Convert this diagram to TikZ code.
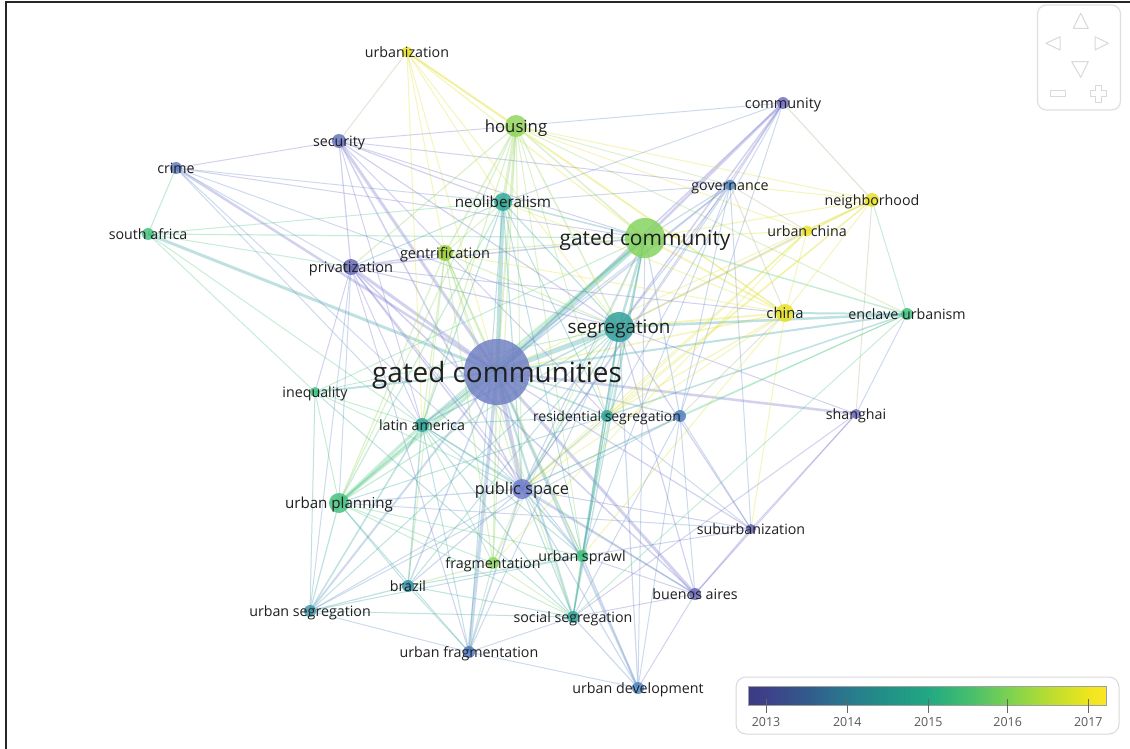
\documentclass[tikz,border=0pt]{standalone}
\usepackage{fontspec}
\setmainfont{Open Sans}
\usetikzlibrary{shapes.geometric}
\pgfdeclarelayer{bg}
\pgfdeclarelayer{edges}
\pgfdeclarelayer{labels}
\pgfsetlayers{bg,edges,main,labels}
% node colours
\definecolor{nGC}{HTML}{6E7DC2}
\definecolor{nGY}{HTML}{82D25A}
\definecolor{nHOU}{HTML}{8FD45A}
\definecolor{nSEG}{HTML}{2E9E9A}
\definecolor{nNEO}{HTML}{2AA694}
\definecolor{nY}{HTML}{E8E020}
\definecolor{nGEN}{HTML}{9ACE30}
\definecolor{nPRI}{HTML}{6262B4}
\definecolor{nSEC}{HTML}{6270BC}
\definecolor{nCRI}{HTML}{5878BC}
\definecolor{nCOM}{HTML}{6F6AC4}
\definecolor{nGOV}{HTML}{4C86C4}
\definecolor{nG}{HTML}{3EBF7A}
\definecolor{nT}{HTML}{2AA297}
\definecolor{nUNL}{HTML}{4A7CC0}
\definecolor{nPUB}{HTML}{6E78CC}
\definecolor{nFRAG}{HTML}{8FD65C}
\definecolor{nBRA}{HTML}{2B8EA6}
\definecolor{nUSEG}{HTML}{3A94A8}
\definecolor{nUFR}{HTML}{4A74C0}
\definecolor{nUDEV}{HTML}{4A86C4}
% edge colours
\definecolor{eP}{HTML}{7D7DD2}
\definecolor{eB}{HTML}{6D95CC}
\definecolor{eT}{HTML}{45A8A8}
\definecolor{eG}{HTML}{5CCC8C}
\definecolor{eLG}{HTML}{9AD86A}
\definecolor{eY}{HTML}{E2E23A}
\definecolor{eGr}{HTML}{B4B48C}
% legend colours
\definecolor{vA}{HTML}{3B3A86}
\definecolor{vB}{HTML}{3E4189}
\definecolor{vC}{HTML}{33598C}
\definecolor{vD}{HTML}{29798E}
\definecolor{vE}{HTML}{219287}
\definecolor{vF}{HTML}{22A884}
\definecolor{vG}{HTML}{43BD6E}
\definecolor{vH}{HTML}{7AD151}
\definecolor{vI}{HTML}{B8DD32}
\definecolor{vJ}{HTML}{EEE51D}
\definecolor{vK}{HTML}{FDE725}
\definecolor{labc}{HTML}{1F1F1F}
\pgfdeclarehorizontalshading{viridis}{100bp}{color(0bp)=(vA); color(25bp)=(vA); color(27.5bp)=(vB); color(33bp)=(vC); color(38.8bp)=(vD); color(44.5bp)=(vE); color(50.1bp)=(vF); color(55.5bp)=(vG); color(61.2bp)=(vH); color(66.8bp)=(vI); color(72.4bp)=(vJ); color(75bp)=(vK); color(100bp)=(vK)}
\tikzset{
  kw/.style={circle, inner sep=0pt, minimum size=#1bp, draw=none, fill opacity=0.82},
  lab/.style={anchor=base, inner sep=0pt, text=labc},
  navshape/.style={draw=gray!30, line width=1bp, line join=round},
}
\begin{document}
\begin{tikzpicture}[x=1bp,y=-1bp]
\useasboundingbox (0,0) rectangle (1130,749);
\begin{pgfonlayer}{bg}
\fill[white] (0,0) rectangle (1130,749);
\end{pgfonlayer}
% keyword nodes
\node[kw=66, fill=nGC] (gc) at (497,372) {};
\node[kw=40, fill=nGY] (gy) at (645,238) {};
\node[kw=22, fill=nHOU] (hou) at (516,126) {};
\node[kw=30, fill=nSEG] (seg) at (619,327) {};
\node[kw=11, fill=nY] (urbz) at (407,52) {};
\node[kw=12, fill=nCOM] (com) at (783,103) {};
\node[kw=14, fill=nSEC] (sec) at (339,141) {};
\node[kw=12, fill=nCRI] (cri) at (176,168) {};
\node[kw=11, fill=nGOV] (gov) at (730,185) {};
\node[kw=18, fill=nNEO] (neo) at (503,202) {};
\node[kw=14, fill=nY] (nei) at (872,200) {};
\node[kw=12, fill=nG] (saf) at (148,234) {};
\node[kw=11, fill=nY] (uch) at (807,231) {};
\node[kw=16, fill=nGEN] (gen) at (445,253) {};
\node[kw=16, fill=nPRI] (pri) at (351,267) {};
\node[kw=18, fill=nY] (chi) at (785,313) {};
\node[kw=12, fill=nG] (enc) at (907,314) {};
\node[kw=10, fill=nG] (ineq) at (315,392) {};
\node[kw=14, fill=nT] (lat) at (422,425) {};
\node[kw=12, fill=nT] (rseg) at (607,416) {};
\node[kw=12, fill=nUNL] (unl) at (680,416) {};
\node[kw=10, fill=nCOM] (sha) at (856,414) {};
\node[kw=20, fill=nPUB] (pub) at (522,489) {};
\node[kw=20, fill=nG] (upl) at (339,503) {};
\node[kw=10, fill=nPRI] (sub) at (751,529) {};
\node[kw=12, fill=nG] (spr) at (582,556) {};
\node[kw=12, fill=nFRAG] (frag) at (493,563) {};
\node[kw=12, fill=nBRA] (bra) at (408,586) {};
\node[kw=12, fill=nPRI] (bue) at (695,594) {};
\node[kw=12, fill=nUSEG] (useg) at (310,611) {};
\node[kw=12, fill=nT] (sseg) at (573,617) {};
\node[kw=12, fill=nUFR] (ufr) at (469,652) {};
\node[kw=12, fill=nUDEV] (udev) at (638,688) {};
% links
\begin{pgfonlayer}{edges}
\foreach \a/\b/\w/\c in {
 gc/sec/3/eP, gc/cri/2.5/eP, gc/saf/3/eT, gc/pri/3/eP, gc/neo/4/eT, gc/hou/2/eLG, gc/gy/5/eT, gc/seg/5/eT,
 gc/gen/1.5/eLG, gc/ineq/2/eT, gc/lat/2/eT, gc/upl/3/eG, gc/pub/4/eP, gc/ufr/3.5/eB, gc/useg/2/eB, gc/bra/1.5/eB,
 gc/frag/1.5/eLG, gc/spr/1.5/eG, gc/sseg/2/eT, gc/udev/2/eB, gc/bue/3/eP, gc/sub/1.2/eP, gc/sha/2.5/eP, gc/unl/1.5/eB,
 gc/rseg/1.5/eT, gc/chi/1.5/eY, gc/enc/2/eT, gc/com/1.5/eP, gc/gov/1.5/eB, gc/urbz/1/eY, gc/nei/1/eY,
 gy/hou/1.5/eLG, gy/neo/1.5/eT, gy/gen/1.2/eLG, gy/pri/1.5/eP, gy/saf/1.2/eG, gy/seg/2.5/eT, gy/chi/2/eY, gy/uch/1.2/eY,
 gy/nei/1.2/eY, gy/gov/1.2/eB, gy/com/2.5/eP, gy/sec/1/eP, gy/lat/2/eG, gy/upl/2/eG, gy/pub/1.2/eB, gy/spr/1.2/eG,
 gy/sseg/1.2/eT, gy/rseg/1.2/eT, gy/unl/1.2/eB, gy/enc/1.5/eG, gy/frag/1/eLG, gy/udev/1/eB, gy/ineq/1/eG, gy/urbz/1.2/eY, gy/cri/1/eP,
 hou/urbz/2/eY, hou/sec/1/eP, hou/com/1/eB, hou/neo/3/eLG, hou/gen/1.5/eLG, hou/pri/1.2/eLG, hou/seg/1.5/eLG, hou/chi/1.2/eY,
 hou/uch/1/eY, hou/nei/1/eY, hou/gov/1/eLG, hou/lat/1.2/eLG, hou/upl/1.2/eLG, hou/pub/1/eLG, hou/spr/1/eLG, hou/frag/1/eLG,
 hou/enc/1/eLG, hou/rseg/1/eLG,
 seg/chi/2/eY, seg/enc/2.5/eT, seg/sub/1.2/eP, seg/bue/1.2/eP, seg/sseg/1.5/eT, seg/spr/1.5/eT, seg/udev/1.2/eB, seg/lat/1.5/eT,
 seg/upl/1.2/eG, seg/pub/1.5/eT, seg/gov/1.2/eB, seg/com/1.5/eP, seg/nei/1.2/eY, seg/uch/1.5/eGr, seg/sha/1/eP, seg/rseg/1.2/eT,
 seg/neo/1.2/eT, seg/gen/1.2/eLG, seg/pri/1.2/eP, seg/sec/1.2/eP, seg/cri/1/eB, seg/ineq/1/eG, seg/urbz/1/eY, seg/useg/1/eT,
 seg/bra/1/eT, seg/ufr/1/eB,
 urbz/sec/1/eGr, urbz/gen/1/eY, urbz/neo/1/eY, urbz/chi/1/eY, urbz/lat/1/eY,
 com/gov/1.2/eP, com/nei/1.2/eGr, com/neo/1/eB, com/unl/1/eB, com/rseg/1/eB, com/pub/1/eP,
 sec/cri/1/eP, sec/pri/1.2/eP, sec/gov/1/eP, sec/neo/1.2/eP, sec/pub/1.5/eP, sec/lat/1/eP, sec/rseg/1/eP,
 cri/saf/1.2/eG, cri/pri/1/eB, cri/neo/1/eB, cri/pub/1/eB, cri/lat/1/eB,
 gov/nei/1/eY, gov/uch/1/eGr, gov/chi/1/eGr, gov/pub/1/eB, gov/spr/1/eB, gov/unl/1/eB, gov/lat/1/eB, gov/sub/1/eB, gov/neo/1/eB,
 neo/gen/1/eLG, neo/pri/1/eT, neo/lat/1.2/eT, neo/upl/1.2/eG, neo/pub/1.2/eT, neo/chi/1/eY, neo/spr/1/eT, neo/rseg/1/eT, neo/saf/1/eG, neo/ufr/1/eT,
 nei/uch/2/eY, nei/chi/1/eY, nei/enc/1/eG, nei/sha/1/eGr, nei/pub/1/eY, nei/rseg/1/eY,
 saf/pri/1/eG, saf/ineq/1/eG, saf/lat/1/eG,
 uch/chi/1/eY, uch/rseg/1/eY, uch/pub/1/eY, uch/frag/1/eY,
 gen/pri/1.5/eP, gen/lat/1.2/eLG, gen/upl/1.2/eLG, gen/pub/1/eLG, gen/frag/1.2/eLG, gen/spr/1/eLG, gen/chi/1/eY, gen/sseg/1/eLG, gen/bra/1/eLG,
 pri/ineq/1/eP, pri/lat/1/eP, pri/upl/1/eB, pri/pub/1.5/eP, pri/bue/1.5/eP, pri/ufr/1/eP, pri/useg/1/eB, pri/spr/1/eP, pri/chi/1/eP,
 chi/enc/2/eT, chi/sub/1/eY, chi/rseg/1.2/eY, chi/pub/1/eY, chi/unl/1/eGr, chi/spr/1/eY,
 enc/sha/1/eB, enc/unl/1/eG, enc/pub/1/eG, enc/sseg/1/eG, enc/rseg/1.5/eT,
 ineq/lat/1/eG, ineq/upl/1/eG, ineq/useg/1/eT, ineq/pub/1/eG, ineq/sseg/1/eT,
 lat/upl/3/eG, lat/bra/1.5/eT, lat/useg/1.5/eT, lat/pub/1.2/eT, lat/spr/1/eT, lat/sseg/1.2/eT, lat/frag/1/eG, lat/ufr/1/eT, lat/rseg/1/eT, lat/bue/1/eT,
 rseg/unl/1/eB, rseg/pub/1/eT, rseg/spr/1/eT, rseg/sseg/1/eT, rseg/sub/1/eB, rseg/upl/1/eT,
 unl/sub/1/eB, unl/bue/1/eB, unl/udev/1/eB, unl/pub/1/eB, unl/sseg/1/eB, unl/useg/1/eB,
 sha/sub/1/eP, sha/bue/1/eP, sha/sseg/1/eP,
 pub/upl/1.2/eB, pub/spr/1.5/eT, pub/frag/1/eLG, pub/bra/1.2/eB, pub/bue/1.5/eP, pub/useg/1/eB, pub/sseg/1.2/eT, pub/ufr/1.5/eB, pub/udev/1.2/eB, pub/sub/1/eP,
 upl/useg/1.2/eT, upl/bra/1/eT, upl/spr/1/eG, upl/sseg/1/eG, upl/frag/1/eG, upl/ufr/1/eT, upl/sub/1/eB,
 sub/bue/1.5/eP, sub/spr/1/eP,
 spr/sseg/1.5/eG, spr/udev/1.5/eB, spr/frag/1/eG, spr/bra/1/eT, spr/useg/1/eT, spr/bue/1/eP,
 frag/bra/1.2/eLG, frag/ufr/1/eG, frag/sseg/1/eLG,
 bra/useg/1.2/eT, bra/ufr/1/eT, bra/sseg/1/eT,
 bue/udev/1/eP, bue/sseg/1/eP,
 useg/ufr/1/eB, useg/sseg/1/eT,
 sseg/ufr/1/eB, sseg/udev/1.2/eB,
 ufr/udev/1/eB}
 {\draw[line width=\w bp, draw=\c, draw opacity=0.34] (\a.center) -- (\b.center);}
\end{pgfonlayer}
% labels
\begin{pgfonlayer}{labels}
\foreach \n/\t/\s in {
 gc/gated communities/28, gy/gated community/21, seg/segregation/18.9, hou/housing/16.8,
 pub/public space/16.4, upl/urban planning/15.2, neo/neoliberalism/15.3,
 urbz/urbanization/14.3, com/community/14.5, sec/security/14.3, cri/crime/14.3, gov/governance/14.3,
 nei/neighborhood/14.3, saf/south africa/14.3, uch/urban china/14.3, gen/gentrification/14.6,
 pri/privatization/14.6, chi/china/14.8, enc/enclave urbanism/14.3, ineq/inequality/14.3,
 lat/latin america/14.3, rseg/residential segregation/14, sha/shanghai/14.3, sub/suburbanization/14.3,
 spr/urban sprawl/14.3, frag/fragmentation/14.3, bra/brazil/14.3, bue/buenos aires/14.3,
 useg/urban segregation/14.3, sseg/social segregation/14.3, ufr/urban fragmentation/14.3,
 udev/urban development/14.3}
 {\node[lab, font=\fontsize{\s}{\s}\selectfont, yshift=-0.36*\s bp] (\n-l) at (\n) {\t};}
\end{pgfonlayer}
% navigation control
\draw[draw=gray!25, line width=1.2bp, rounded corners=9bp] (1037.5,5) rectangle (1120.5,110);
\draw[navshape] (1080.7,13.3) -- (1073.3,28.3) -- (1088.3,28.3) -- cycle;
\draw[navshape] (1046,43.3) -- (1060,36.7) -- (1060,50) -- cycle;
\draw[navshape] (1108.3,43.3) -- (1095,36.7) -- (1095,50) -- cycle;
\draw[navshape] (1080.7,77.3) -- (1071.7,61.7) -- (1088.3,61.7) -- cycle;
\draw[navshape] (1050,91) rectangle (1065,97);
\draw[navshape] (1095.3,86) -- (1101.3,86) -- (1101.3,91) -- (1106,91) -- (1106,97) -- (1101.3,97) -- (1101.3,102) -- (1095.3,102) -- (1095.3,97) -- (1090.7,97) -- (1090.7,91) -- (1095.3,91) -- cycle;
% legend
\draw[draw=gray!30, line width=1bp, rounded corners=10bp] (736,677) rectangle (1119,734);
\shade[shading=viridis] (748.3,686.7) rectangle (1106.7,705.7);
\draw[draw=gray!75, line width=1.2bp] (748.3,686.7) rectangle (1106.7,705.7);
\foreach \x/\yr in {766/2013, 847.3/2014, 928.3/2015, 1007.7/2016, 1088.3/2017}
 {\draw[draw=gray!80!black, line width=1bp] (\x,699) -- (\x,712.7);
  \node[anchor=base, inner sep=0pt, text=black!65, font=\fontsize{12.5}{12.5}\selectfont] (y\yr) at (\x,726.5) {\yr};}
% frame
\draw[black!85, line width=2bp] (5.5,749) -- (5.5,2) -- (1130,2);
\end{tikzpicture}
\end{document}
